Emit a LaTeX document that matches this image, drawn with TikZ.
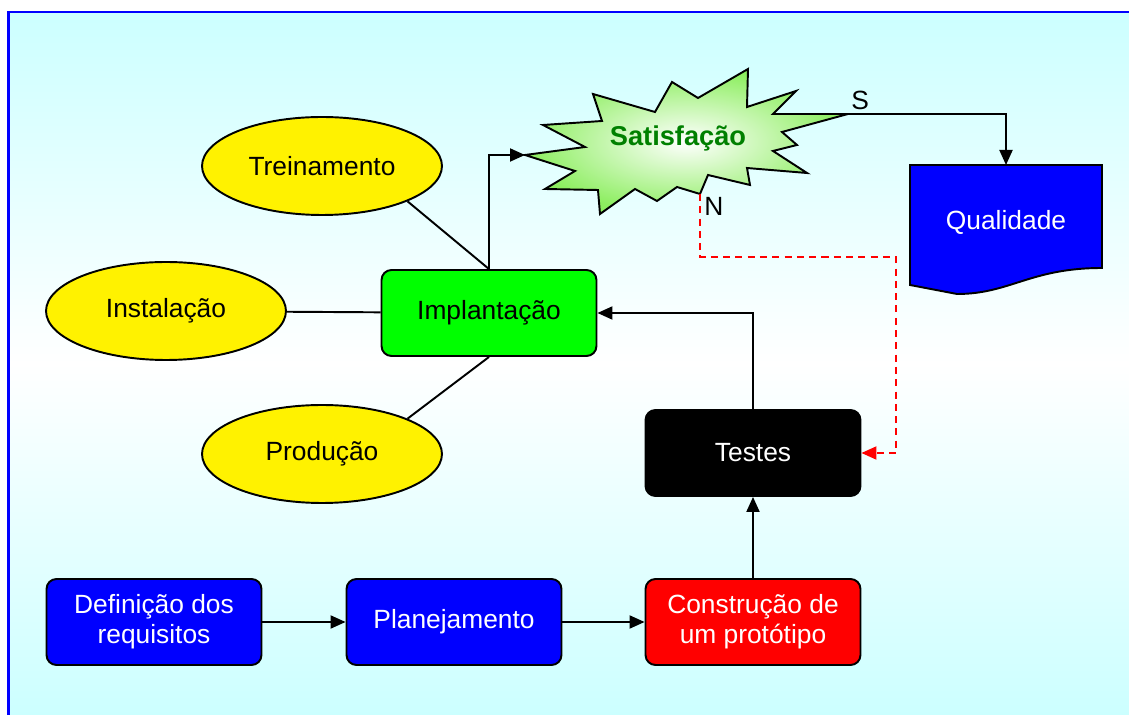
\documentclass[tikz,border=0pt]{standalone}
\usepackage{fontspec}
\setmainfont{Liberation Sans}
\usetikzlibrary{arrows.meta,shapes.geometric}
\definecolor{fundo}{RGB}{204,255,255}
\definecolor{verdesat}{RGB}{140,238,95}
\definecolor{verdeesc}{RGB}{0,128,0}
\tikzset{
  caixa/.style={draw=black,line width=1.1pt,rounded corners=2mm,minimum width=4.3cm,minimum height=1.72cm,align=center,inner sep=1pt},
  elipse/.style={draw=black,line width=1.1pt,ellipse,fill=yellow,minimum width=4.8cm,minimum height=1.96cm},
  seta/.style={line width=1.1pt,-{Triangle[length=3mm,width=2.6mm]}},
  liga/.style={line width=1.1pt},
  rotulo/.style={inner sep=0pt}
}

\begin{document}
\begin{tikzpicture}[x=0.02cm,y=-0.02cm,font=\fontsize{15}{17}\selectfont]

\useasboundingbox(0,0)rectangle(1129,715);
% fundo
\shade[top color=fundo,bottom color=fundo,middle color=white](8.5,12)rectangle(1129,715);
\draw[blue,line width=1.6pt](8.5,715)--(8.5,12)--(1129,12);

% estrela
\shade[inner color=white,outer color=verdesat,draw=black,line width=1.1pt]
  (525,155)--(585,147)--(543,125)--(602,121)--(593,94)--(655,112)--(672,82)--(698,98)
  --(748,69)--(747,107)--(796,91)--(773,114)--(848,114)--(782,132)--(797,145)--(773,151)
  --(807,173)--(747,168)--(750,185)--(708,175)--(700,194)--(677,187)--(657,201)--(635,189)
  --(600,214)--(598,190)--(545,189)--(575,171)--cycle;
\node[text=verdeesc,font=\fontsize{15.5}{17}\selectfont\bfseries](sat)at(678,138){Satisfação};
\coordinate(satL)at(525,155);
\coordinate(satR)at(848,114);
\coordinate(satN)at(700,194);

% documento
\draw[fill=blue,line width=1.1pt](910,165)--(1102,165)--(1102,268)
  ..controls(1030,268)and(1010,294)..(957,294)--(910,285)--cycle;
\node[text=white](qual)at(1006,222){Qualidade};
\coordinate(qualtop)at(1006,165);

% elipses
\node[elipse](trein)at(322,166){Treinamento};
\node[elipse](inst)at(166,311){Instalação};
\node[elipse](prod)at(322,454){Produção};

% caixas
\node[caixa,fill=green](impl)at(489,313){Implantação};
\node[caixa,fill=black,text=white](testes)at(753,453){Testes};
\node[caixa,fill=blue,text=white](defi)at(154,622){Definição dos\\requisitos};
\node[caixa,fill=blue,text=white](plan)at(454,622){Planejamento};
\node[caixa,fill=red,text=white](const)at(753,622){Construção de\\um protótipo};

% ligacoes
\draw[liga](trein.south east)--(impl.north);
\draw[liga](inst)--(impl);
\draw[liga](prod.north east)--(impl.south);
\draw[seta](impl.north)|-(satL);
\draw[seta](defi)--(plan);
\draw[seta](plan)--(const);
\draw[seta](const)--(testes);
\draw[seta](testes.north)|-(impl.east);
\draw[seta](satR)-|(qualtop);
\node[rotulo,above right](s)at(851,110){S};

\coordinate(nvolta)at(896,257);
\draw[seta,red,dash pattern=on 4pt off 3pt](satN)|-(nvolta)|-(testes.east);
\node[rotulo,below right](n)at(704,197){N};

\end{tikzpicture}
\end{document}
